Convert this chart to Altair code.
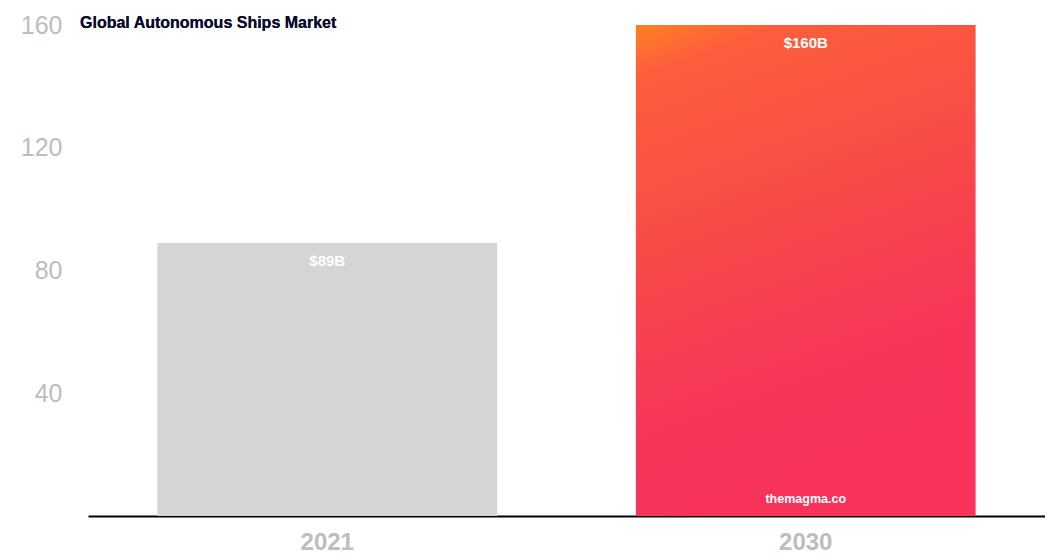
import altair as alt
import pandas as pd

years = ["2021", "2030"]
values = [89, 160]
labels = ["$89B", "$160B"]
y_ticks = [40, 80, 120, 160]

df = pd.DataFrame({"year": years, "value": values, "label": labels})

x_enc = alt.X("year:N", sort=years, title=None,
              scale=alt.Scale(paddingInner=0.29, paddingOuter=0.145),
              axis=alt.Axis(labelAngle=0, labelFont="Liberation Sans", labelFontSize=24,
                            labelFontWeight="bold", labelColor="#bdbdbd", labelPadding=14,
                            ticks=False, domainColor="#000000", domainWidth=2, grid=False))
y_enc = alt.Y("value:Q", title=None, scale=alt.Scale(domain=[0, 160], nice=False),
              axis=alt.Axis(values=y_ticks, labelFont="Liberation Sans", labelFontSize=25,
                            labelColor="#bdbdbd", labelPadding=26, ticks=False, domain=False,
                            grid=False))

base = alt.Chart(df)

gray_bar = base.transform_filter(alt.datum.year == "2021").mark_bar(color="#d5d5d5").encode(x=x_enc, y=y_enc)

grad = alt.Gradient(gradient="linear", x1=0, y1=0, x2=0.25, y2=1,
                    stops=[alt.GradientStop(color="#ff8122", offset=0),
                           alt.GradientStop(color="#fc5e3b", offset=0.1),
                           alt.GradientStop(color="#f84a48", offset=0.45),
                           alt.GradientStop(color="#f7355a", offset=0.8),
                           alt.GradientStop(color="#f7335c", offset=1)])
grad_bar = base.transform_filter(alt.datum.year == "2030").mark_bar(color=grad).encode(x=x_enc, y=y_enc)

val_text = base.mark_text(font="Liberation Sans", fontSize=15, fontWeight="bold", color="white",
                          baseline="middle", dy=18).encode(x=x_enc, y=y_enc, text="label:N")

wm = base.transform_filter(alt.datum.year == "2030").mark_text(
    font="Liberation Sans", fontSize=12.5, fontWeight="bold", color="white", baseline="middle"
).encode(x=x_enc, y=alt.value(474), text=alt.value("themagma.co"))

title = base.mark_text(font="Liberation Sans", fontSize=16, fontWeight="bold", color="#0b0b2e",
                       align="left", baseline="middle").encode(
    x=alt.value(-8), y=alt.value(-2), text=alt.value("Global Autonomous Ships Market"))

chart = alt.layer(gray_bar, grad_bar, val_text, wm, title).properties(
    width=957, height=491, autosize=alt.AutoSizeParams(type="none"),
    padding={"left": 80, "top": 17, "right": 0, "bottom": 40},
    background="white"
).configure_view(stroke=None)

chart.save("out.html", embed_options={"renderer": "svg", "actions": False})
